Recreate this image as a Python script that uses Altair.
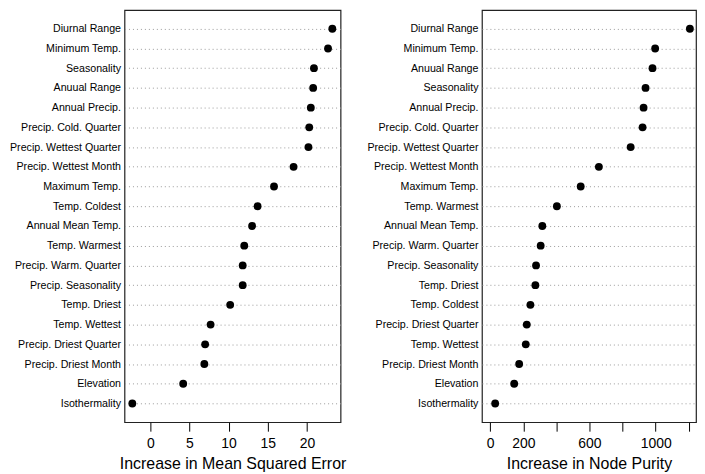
import altair as alt
import pandas as pd

mse_vars = ["Diurnal Range", "Minimum Temp.", "Seasonality", "Anuual Range", "Annual Precip.",
            "Precip. Cold. Quarter", "Precip. Wettest Quarter", "Precip. Wettest Month",
            "Maximum Temp.", "Temp. Coldest", "Annual Mean Temp.", "Temp. Warmest",
            "Precip. Warm. Quarter", "Precip. Seasonality", "Temp. Driest", "Temp. Wettest",
            "Precip. Driest Quarter", "Precip. Driest Month", "Elevation", "Isothermality"]
mse_vals = [23.25, 22.7, 20.9, 20.8, 20.5, 20.3, 20.2, 18.3, 15.8, 13.7, 13.0, 12.0,
            11.8, 11.8, 10.2, 7.7, 7.0, 6.9, 4.2, -2.3]

purity_vars = ["Diurnal Range", "Minimum Temp.", "Anuual Range", "Seasonality", "Annual Precip.",
               "Precip. Cold. Quarter", "Precip. Wettest Quarter", "Precip. Wettest Month",
               "Maximum Temp.", "Temp. Warmest", "Annual Mean Temp.", "Precip. Warm. Quarter",
               "Precip. Seasonality", "Temp. Driest", "Temp. Coldest", "Precip. Driest Quarter",
               "Temp. Wettest", "Precip. Driest Month", "Elevation", "Isothermality"]
purity_vals = [1207, 997, 981, 939, 927, 921, 849, 657, 547, 403, 315, 305, 277, 273, 243,
               221, 215, 175, 145, 30]

mse_ticks = [0, 5, 10, 15, 20]
purity_ticks = [0, 200, 400, 600, 800, 1000, 1200]
purity_labelled = [0, 200, 600, 1000]

FONT = "Liberation Sans"


def panel(vars_, vals, title, domain, ticks, width, label_expr=None):
    df = pd.DataFrame({"var": vars_, "val": vals})
    xaxis_kwargs = dict(values=ticks, title=title, grid=False, domain=False, tickSize=9,
                        tickColor="black", labelColor="black", labelFontSize=14,
                        titleFontSize=16, titleFontWeight="normal", titleColor="black",
                        labelPadding=5, titlePadding=5, labelFlush=False, labelOverlap=False,
                        labelFont=FONT, titleFont=FONT, format="d")
    if label_expr:
        xaxis_kwargs["labelExpr"] = label_expr
    return alt.Chart(df).mark_circle(size=62, color="black", opacity=1).encode(
        x=alt.X("val:Q", scale=alt.Scale(domain=domain, nice=False, zero=False),
                axis=alt.Axis(**xaxis_kwargs)),
        y=alt.Y("var:N", sort=None, scale=alt.Scale(type="point", padding=0.95),
                axis=alt.Axis(title=None, ticks=False, domain=False, grid=True,
                              gridDash=[1, 3], gridColor="#9a9a9a", labelFontSize=10.7,
                              labelColor="black", labelPadding=4, labelFont=FONT)),
    ).properties(width=width, height=414)


left = panel(mse_vars, mse_vals, "Increase in Mean Squared Error", [-3.3, 24.3], mse_ticks, 217)
right = panel(purity_vars, purity_vals, "Increase in Node Purity", [-50, 1244], purity_ticks, 215,
              label_expr="indexof(%s, datum.value) >= 0 ? datum.label : ''" % str(purity_labelled))

chart = alt.hconcat(left, right, spacing=19).properties(padding=0).configure_view(
    stroke="#222222", strokeWidth=1.2
)

chart.save("out.html", embed_options={"renderer": "svg", "actions": False})
